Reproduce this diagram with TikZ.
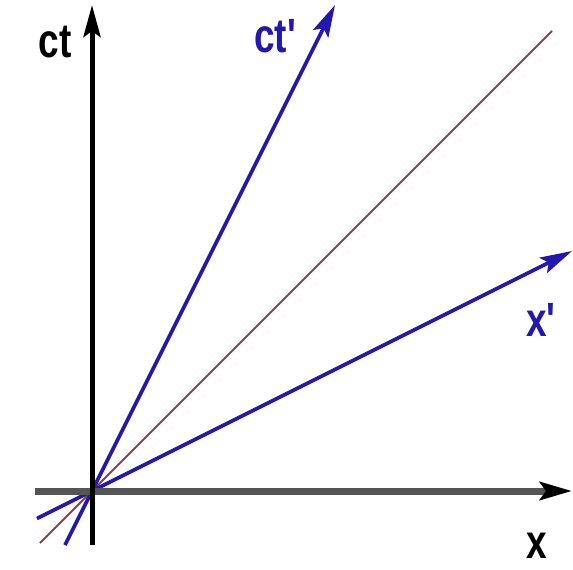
\documentclass[tikz,border=0pt]{standalone}
\usepackage{fontspec}
\setmainfont{Liberation Sans}
\usetikzlibrary{arrows.meta}
\definecolor{lblue}{HTML}{2218B0}
\definecolor{lred}{HTML}{8E3E4E}
\definecolor{axgray}{HTML}{555555}
\begin{document}
\begin{tikzpicture}[x=1pt,y=-1pt,
  axis/.style={line width=5pt},
  bluel/.style={lblue,line width=3.6pt},
  redl/.style={lred,line width=2pt},
  tip/.style={-{Stealth[length=32pt,width=17pt,inset=6pt]}},
  lab/.style={font=\fontsize{37}{37}\selectfont\bfseries,inner sep=0pt}]
\useasboundingbox (0,0) rectangle (573,570);
\fill[white] (0,0) rectangle (573,570);
\coordinate (O) at (92,491);
\coordinate (tb) at (92,545);
\coordinate (tt) at (92,5);
\coordinate (xl) at (35,491);
\coordinate (xr) at (572,491);
\coordinate (cb) at (65,545);
\coordinate (ct) at (335,5);
\coordinate (pb) at (37,518.5);
\coordinate (pt) at (572,251);
\coordinate (rb) at (40,543);
\coordinate (rt) at (552,31);
\draw[redl] (rb) -- (rt);
\draw[bluel] (cb) -- (O);
\draw[bluel,tip] (O) -- (ct);
\draw[bluel] (pb) -- (O);
\draw[bluel,tip] (O) -- (pt);
\draw[axis,axgray,line width=7pt,-{Stealth[black,length=32pt,width=18pt,inset=6pt]}] (xl) -- (xr);
\draw[axis,black,tip] (tb) -- (tt);
\node[lab] (lct) at (55,42) {\scalebox{1}[1.3]{ct}};
\node[lab,lblue] (lctp) at (275,36) {\scalebox{1}[1.3]{ct\textquotesingle}};
\node[lab,lblue] (lxp) at (541,320) {\scalebox{1}[1.3]{x\textquotesingle}};
\node[lab] (lx) at (537,546) {\scalebox{1}[1.3]{x}};
\end{tikzpicture}
\end{document}
